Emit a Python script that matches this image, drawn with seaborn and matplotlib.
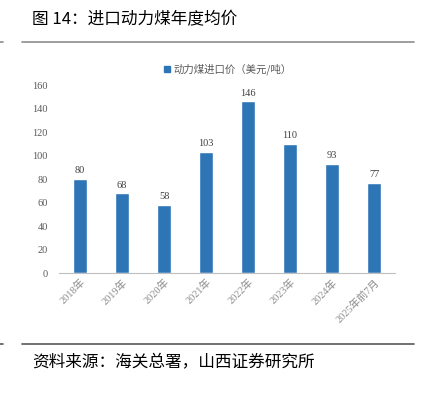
import matplotlib
matplotlib.use("Agg")
import matplotlib.pyplot as plt
import seaborn as sns
import pandas as pd
from matplotlib.lines import Line2D

categories = ["2018年", "2019年", "2020年", "2021年", "2022年", "2023年", "2024年", "2025年前7月"]
values = [80, 68, 58, 103, 146, 110, 93, 77]
series_name = "动力煤进口价（美元/吨）"
yticks = [0, 20, 40, 60, 80, 100, 120, 140, 160]

sns.set_theme(style="white")
plt.rcParams['font.family'] = ['Noto Sans CJK SC', 'DejaVu Sans']

df = pd.DataFrame({"cat": categories, "val": values, "series": series_name})

fig = plt.figure(figsize=(4.24, 3.93), dpi=100)
ax = fig.add_axes([0.139, 0.3053, 0.793, 0.4784])
bar_color = "#2E75B6"
sns.barplot(data=df, x="cat", y="val", hue="series", palette=[bar_color],
            width=0.34, ax=ax, legend=False, saturation=1)

ax.set_ylim(0, 160)
ax.set_yticks(yticks)
ax.set_yticklabels([str(t) for t in yticks], family=['Liberation Serif'], fontsize=7.5, color="#595959")
ax.set_xlabel("")
ax.set_ylabel("")
ax.tick_params(axis='y', length=0, pad=8)
ax.tick_params(axis='x', length=0, pad=3)
plt.setp(ax.get_xticklabels(), rotation=45, ha="right", rotation_mode="anchor",
         fontsize=7.5, color="#8c8c8c", family=['Liberation Serif', 'Noto Sans CJK SC'])
for s in ["top", "right", "left"]:
    ax.spines[s].set_visible(False)
ax.spines["bottom"].set_color("#bfbfbf")
ax.spines["bottom"].set_linewidth(0.8)

for i, v in enumerate(values):
    ax.text(i, v + 3, str(v), ha="center", va="bottom", fontsize=7.5,
            family=['Liberation Serif'], color="#404040")

handle = Line2D([], [], marker="s", linestyle="none", color=bar_color, markersize=4)
ax.legend([handle], [series_name], loc="lower center", bbox_to_anchor=(0.5, 1.03),
          frameon=False, fontsize=7.5, handletextpad=0.2, labelcolor="#595959",
          borderaxespad=0, handlelength=0.8)

fig.text(32/424, 1 - 20/393, "图 14：进口动力煤年度均价", fontsize=12, va="center", ha="left", color="#000000")
fig.text(32/424, 1 - 363/393, "资料来源：海关总署，山西证券研究所", fontsize=12, va="center", ha="left", color="#000000")

fig.add_artist(Line2D([22/424, 414/424], [1 - 42/393] * 2, color="#8c8c8c", linewidth=1.2))
fig.add_artist(Line2D([0, 3/424], [1 - 42/393] * 2, color="#8c8c8c", linewidth=1.2))
fig.add_artist(Line2D([22/424, 414/424], [1 - 344/393] * 2, color="#595959", linewidth=1.2))
fig.add_artist(Line2D([0, 3/424], [1 - 344/393] * 2, color="#595959", linewidth=1.2))

fig.savefig("out.png", dpi=100)
